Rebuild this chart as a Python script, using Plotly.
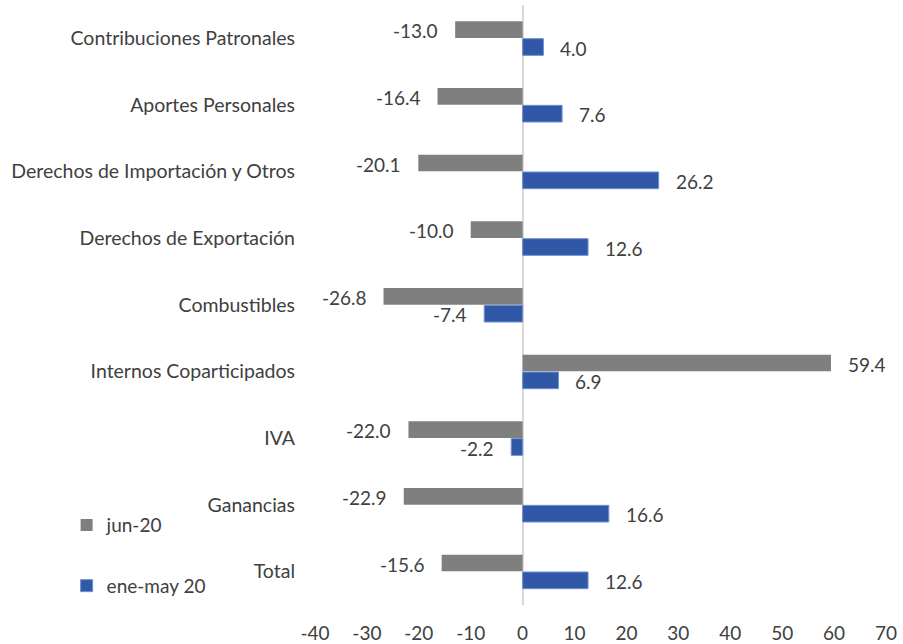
import plotly.graph_objects as go

categories = ["Total", "Ganancias", "IVA", "Internos Coparticipados", "Combustibles",
              "Derechos de Exportación", "Derechos de Importación y Otros",
              "Aportes Personales", "Contribuciones Patronales"]
jun20 = [-15.6, -22.9, -22.0, 59.4, -26.8, -10.0, -20.1, -16.4, -13.0]
ene_may20 = [12.6, 16.6, -2.2, 6.9, -7.4, 12.6, 26.2, 7.6, 4.0]
x_ticks = [-40, -30, -20, -10, 0, 10, 20, 30, 40, 50, 60, 70]
x_tick_labels = [str(t) for t in x_ticks]

FONT = "Lato"
FS = 19
TXT = "#404040"
GRAY = "#7f7f7f"
BLUE = "#3158a6"

pos = list(range(len(categories)))

fig = go.Figure()
fig.add_trace(go.Bar(y=pos, x=jun20, orientation="h", name="jun-20",
                     marker=dict(color=GRAY, line=dict(width=0)),
                     width=0.25, offset=0.005, legend="legend"))
fig.add_trace(go.Bar(y=pos, x=ene_may20, orientation="h", name="ene-may 20",
                     marker=dict(color=BLUE, line=dict(width=1, color="#6f8fcf")),
                     width=0.25, offset=-0.255, legend="legend2"))

annotations = []
for i, (a, b) in enumerate(zip(jun20, ene_may20)):
    for v, dy in ((a, 0.13), (b, -0.13)):
        annotations.append(dict(
            x=v, y=i + dy, xref="x", yref="y", text=f"{v:.1f}", showarrow=False,
            xanchor="left" if v >= 0 else "right",
            xshift=15 if v >= 0 else -15, yshift=-1,
            font=dict(family=FONT, size=FS, color=TXT)))

fig.update_layout(
    width=903, height=644,
    margin=dict(l=315, r=17, t=5, b=39),
    plot_bgcolor="white", paper_bgcolor="white",
    barmode="overlay",
    font=dict(family=FONT, size=FS, color=TXT),
    xaxis=dict(range=[-40, 70], tickvals=x_ticks, ticktext=x_tick_labels,
               showgrid=False, zeroline=True,
               zerolinecolor="#d9d9d9", zerolinewidth=1.5, showline=False,
               ticks="", ticklabelstandoff=15, automargin=False,
               tickfont=dict(family=FONT, size=FS, color=TXT)),
    yaxis=dict(range=[-0.5, 8.5], tickvals=pos, ticktext=categories,
               showgrid=False, zeroline=False, showline=False, ticks="",
               ticklabelstandoff=19, automargin=False,
               tickfont=dict(family=FONT, size=19.5, color=TXT)),
    showlegend=True,
    legend=dict(x=-0.435, y=0.133, xanchor="left", yanchor="middle",
                bgcolor="rgba(0,0,0,0)", font=dict(family=FONT, size=FS, color=TXT)),
    legend2=dict(x=-0.435, y=0.032, xanchor="left", yanchor="middle",
                 bgcolor="rgba(0,0,0,0)", font=dict(family=FONT, size=FS, color=TXT)),
    annotations=annotations,
)

fig.write_html("out.html", config={"displayModeBar": False},
               post_script="document.body.style.margin='0';")
